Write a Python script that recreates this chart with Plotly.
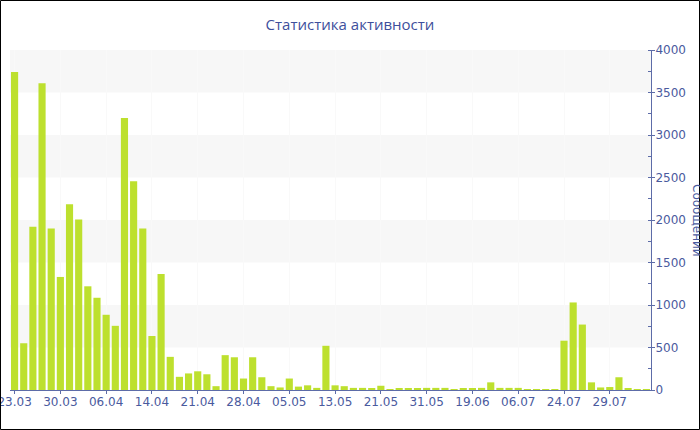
import plotly.graph_objects as go

# --- данные ---
dates = [
    "23.03", "24.03", "25.03", "27.03", "28.03",
    "30.03", "31.03", "01.04", "03.04", "04.04",
    "06.04", "07.04", "09.04", "10.04", "12.04",
    "14.04", "15.04", "17.04", "18.04", "20.04",
    "21.04", "22.04", "24.04", "25.04", "27.04",
    "28.04", "29.04", "01.05", "02.05", "04.05",
    "05.05", "07.05", "08.05", "10.05", "12.05",
    "13.05", "15.05", "16.05", "18.05", "20.05",
    "21.05", "23.05", "25.05", "27.05", "29.05",
    "31.05", "03.06", "07.06", "11.06", "15.06",
    "19.06", "22.06", "25.06", "28.06", "02.07",
    "06.07", "10.07", "14.07", "18.07", "22.07",
    "24.07", "25.07", "26.07", "27.07", "28.07",
    "29.07", "30.07", "31.07", "01.08", "02.08",
]
messages = [
    3740, 550, 1920, 3610, 1900, 1330, 2185, 2005, 1220, 1085, 885, 755,
    3200, 2455, 1900, 635, 1365, 390, 155, 195, 220, 185, 45, 410,
    385, 135, 385, 150, 45, 30, 135, 40, 55, 25, 520, 55,
    45, 25, 25, 15, 50, 10, 15, 20, 15, 25, 25, 25,
    10, 15, 15, 25, 90, 25, 25, 25, 10, 10, 10, 10,
    580, 1030, 770, 90, 30, 35, 150, 15, 10, 10,
]
tick_labels = dates[::5]
band_starts = [500, 1500, 2500, 3500]

TEXT = "#4a5a9e"
AXIS = "#5d6ca8"
FONT = "DejaVu Sans"

fig = go.Figure()
fig.add_trace(go.Bar(x=dates, y=messages, marker_color="#bde02e",
                     marker_line_width=0, name="Сообщений"))

# чередующиеся полосы фона
for b in band_starts:
    fig.add_shape(type="rect", xref="paper", yref="y", x0=0, x1=1, y0=b, y1=b + 500,
                  fillcolor="#f7f7f7", line_width=0, layer="below")

# рамка вокруг всей картинки
L, R, T, B = 10, 49, 50, 40
pw, ph = 700 - L - R, 430 - T - B
fig.add_shape(type="rect", xref="paper", yref="paper",
              x0=-(L - 0.5) / pw, x1=(700 - L - 0.5) / pw,
              y0=-(B - 0.5) / ph, y1=(430 - B - 0.5) / ph,
              line=dict(color="black", width=1), fillcolor="rgba(0,0,0,0)")

# подпись оси справа (в оригинале частично обрезана краем)
fig.add_annotation(text="Сообщений", textangle=90, xref="paper", yref="paper",
                   x=(697 - L) / pw, y=0.5, xanchor="center", yanchor="middle",
                   showarrow=False, font=dict(family=FONT, size=12, color=TEXT))

fig.update_layout(
    template="none",
    width=700, height=430,
    margin=dict(l=L, r=R, t=T, b=B),
    paper_bgcolor="white", plot_bgcolor="white",
    bargap=0.22, showlegend=False,
    font=dict(family=FONT, size=12, color=TEXT),
    title=dict(text="Статистика активности", x=0.5, xanchor="center",
               y=1 - 25 / 430, yanchor="middle", yref="container",
               font=dict(family="Open Sans", size=15, color="#3e4f9c")),
)
fig.update_xaxes(type="category", tickmode="array", tickvals=tick_labels,
                 showline=True, linecolor=AXIS, linewidth=1,
                 ticks="outside", ticklen=3, tickcolor=AXIS,
                 showgrid=True, gridcolor="#f9f9f9", automargin=False,
                 ticklabelstandoff=-2,
                 tickfont=dict(family=FONT, size=12, color=TEXT))
fig.update_yaxes(side="right", range=[0, 4000], dtick=500, showgrid=False,
                 showline=True, linecolor=AXIS, linewidth=1,
                 ticks="outside", ticklen=3, tickcolor=AXIS,
                 minor=dict(dtick=250, ticks="inside", ticklen=3, tickcolor=AXIS, showgrid=False),
                 zeroline=False, automargin=False, ticklabelstandoff=-2,
                 tickfont=dict(family=FONT, size=12, color=TEXT))

# страница без отступа body, чтобы график стоял в углу окна
fig.write_html("out.html", config={"displayModeBar": False},
               post_script="document.body.style.margin='0';")
